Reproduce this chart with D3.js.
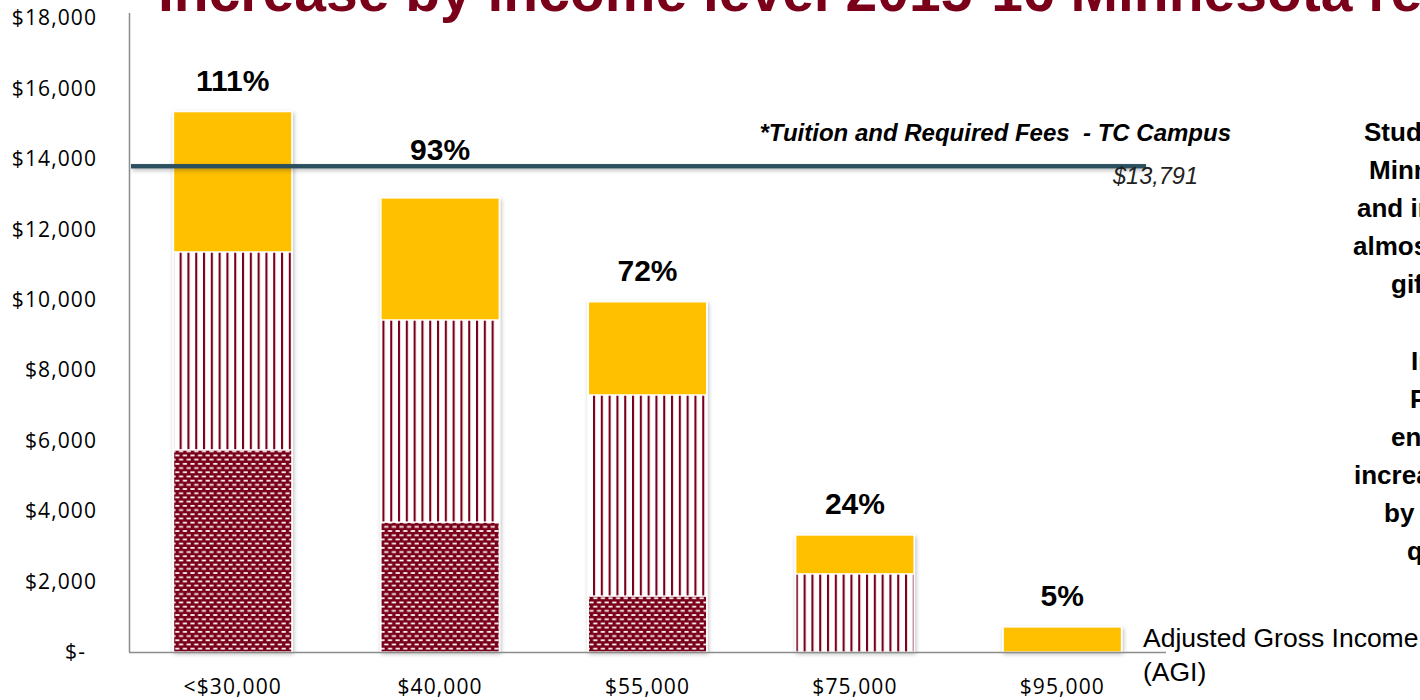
<!DOCTYPE html>
<html>
<head>
<meta charset="utf-8">
<script src="https://cdn.jsdelivr.net/npm/d3@7"></script>
<style>
  html, body { margin: 0; padding: 0; background: #ffffff; }
  svg { display: block; }
  .pre { white-space: pre; }
</style>
</head>
<body>
<svg id="chart" width="1420" height="700"></svg>
<script>
// Income brackets (AGI) and the three stacked aid components, in dollars
const categories = ["<$30,000", "$40,000", "$55,000", "$75,000", "$95,000"];
const baseAid   = [5740, 3690, 1590, 0, 0];      // dotted segment
const middleAid = [5620, 5740, 5710, 2220, 0];   // vertical-stripe segment
const topAid    = [3980, 3460, 2640, 1100, 710]; // solid gold segment

// Tuition and required fees, TC campus
const tuition = 13791;

// Value axis ticks
const yTicks = [0, 2000, 4000, 6000, 8000, 10000, 12000, 14000, 16000, 18000];

// Side note, one entry per line
const noteLines = [
  "Students from", "Minnesota families", "and incomes below", "almost fully covered", "gift aid.",
  "",
  "In", "Pell", "enrollment", "increased", "by", "quarter"
];

const MAROON = "#7a0019";
const GOLD = "#ffc000";
const SLATE = "#2c4f5f";

const svg = d3.select("#chart");
const defs = svg.append("defs");

// Vertical maroon stripes on white
const stripe = defs.append("pattern")
  .attr("id", "stripes").attr("patternUnits", "userSpaceOnUse")
  .attr("width", 7.8).attr("height", 10).attr("x", 0.2);
stripe.append("rect").attr("width", 7.8).attr("height", 10).attr("fill", "#ffffff");
stripe.append("rect").attr("x", 0).attr("width", 2.1).attr("height", 10).attr("fill", MAROON);

// Maroon field with staggered white dashes
const brick = defs.append("pattern")
  .attr("id", "dashes").attr("patternUnits", "userSpaceOnUse")
  .attr("width", 7.6).attr("height", 8.4);
brick.append("rect").attr("width", 7.6).attr("height", 8.4).attr("fill", MAROON);
brick.append("rect").attr("x", 0.4).attr("y", 1).attr("width", 4.2).attr("height", 1.7).attr("fill", "#ffffff");
brick.append("rect").attr("x", 4.2).attr("y", 5.2).attr("width", 4.2).attr("height", 1.7).attr("fill", "#ffffff");
brick.append("rect").attr("x", -3.4).attr("y", 5.2).attr("width", 4.2).attr("height", 1.7).attr("fill", "#ffffff");

// Soft shadow under bars and the tuition line
const shadow = defs.append("filter").attr("id", "soft")
  .attr("filterUnits", "userSpaceOnUse")
  .attr("x", 0).attr("y", 0).attr("width", 1420).attr("height", 700);
shadow.append("feDropShadow").attr("dx", 1).attr("dy", 2).attr("stdDeviation", 2)
  .attr("flood-color", "#000000").attr("flood-opacity", 0.28);

// Scales
const x = d3.scaleBand().domain(categories).range([129, 1166])
  .paddingInner(0.43).paddingOuter(0.215);
const y = d3.scaleLinear().domain([0, 18000]).range([652, 18]);

// Title (runs past the right edge)
svg.append("text")
  .attr("x", 158).attr("y", 11)
  .attr("font-family", "'Liberation Sans', Arial, sans-serif")
  .attr("font-weight", "bold").attr("font-size", 57)
  .attr("fill", MAROON)
  .text("Increase by income level 2015-16 Minnesota residents");

// Stack the three components
const rows = categories.map((c, i) => ({ cat: c, base: baseAid[i], middle: middleAid[i], top: topAid[i] }));
const stack = d3.stack().keys(["base", "middle", "top"]);
const layers = stack(rows);
const fills = { base: "url(#dashes)", middle: "url(#stripes)", top: GOLD };
const total = d => d.base + d.middle + d.top;

// Bar outlines carry the shadow
svg.append("g").selectAll("rect").data(rows).join("rect")
  .attr("x", d => x(d.cat) - 1)
  .attr("y", d => y(total(d)) - 1)
  .attr("width", x.bandwidth() + 2)
  .attr("height", d => y(0) - y(total(d)) + 1)
  .attr("fill", "#ffffff")
  .attr("filter", "url(#soft)");

const layerG = svg.append("g").selectAll("g").data(layers).join("g")
  .attr("fill", d => fills[d.key]);
layerG.selectAll("rect").data(d => d.filter(s => s[1] > s[0])).join("rect")
  .attr("x", d => x(d.data.cat))
  .attr("y", d => y(d[1]))
  .attr("width", x.bandwidth())
  .attr("height", d => y(d[0]) - y(d[1]))
  .attr("stroke", "#ffffff").attr("stroke-width", 1.2);

// Tuition reference line
const yT = y(tuition);
svg.append("rect")
  .attr("x", 131).attr("width", x.range()[1] - 20 - 131)
  .attr("y", yT - 2.2).attr("height", 4.4)
  .attr("fill", SLATE)
  .attr("filter", "url(#soft)");

// Share of tuition covered, above each bar (lifted clear of the tuition line)
const labelY = d => {
  const ly = y(total(d)) - 21;
  return (ly > yT - 6 && ly - 24 < yT + 4) ? yT - 6 : ly;
};
svg.append("g").selectAll("text").data(rows).join("text")
  .attr("x", d => x(d.cat) + x.bandwidth() / 2)
  .attr("y", labelY)
  .attr("text-anchor", "middle")
  .attr("font-family", "'Liberation Sans', Arial, sans-serif")
  .attr("font-weight", "bold").attr("font-size", 30)
  .attr("fill", "#000000")
  .text(d => Math.round(total(d) / tuition * 100) + "%");

svg.append("text")
  .attr("class", "pre")
  .attr("x", 1231).attr("y", 141)
  .attr("text-anchor", "end")
  .attr("font-family", "'Liberation Sans', Arial, sans-serif")
  .attr("font-weight", "bold").attr("font-style", "italic").attr("font-size", 24)
  .attr("fill", "#000000")
  .text("*Tuition and Required Fees  - TC Campus");

svg.append("text")
  .attr("x", 1198).attr("y", yT + 18)
  .attr("text-anchor", "end")
  .attr("font-family", "'Liberation Sans', Arial, sans-serif")
  .attr("font-style", "italic").attr("font-size", 23.5)
  .attr("fill", "#222222")
  .text("$" + d3.format(",")(tuition));

// Axes
const fmt = d => d === 0 ? "$-" : "$" + d3.format(",")(d);
const yAxis = svg.append("g").attr("transform", "translate(129,0)")
  .call(d3.axisLeft(y).tickValues(yTicks).tickFormat(fmt).tickSize(0).tickPadding(32));
yAxis.select(".domain").remove();
yAxis.selectAll("text")
  .attr("font-family", "'Open Sans', 'Liberation Sans', sans-serif")
  .attr("font-size", 21).attr("letter-spacing", 1.1).attr("fill", "#000000")
  .attr("dx", d => d === 0 ? -11 : 0);

const xAxis = svg.append("g").attr("transform", "translate(0,652)")
  .call(d3.axisBottom(x).tickSize(0).tickPadding(27));
xAxis.select(".domain").remove();
xAxis.selectAll("text")
  .attr("font-family", "'Open Sans', 'Liberation Sans', sans-serif")
  .attr("font-size", 21).attr("letter-spacing", 1.1).attr("fill", "#000000");

svg.append("line").attr("x1", 129.5).attr("x2", 129.5).attr("y1", 13).attr("y2", 652)
  .attr("stroke", "#8c8c8c").attr("stroke-width", 1.5);
svg.append("line").attr("x1", 129).attr("x2", x.range()[1]).attr("y1", 652.5).attr("y2", 652.5)
  .attr("stroke", "#8c8c8c").attr("stroke-width", 1.5);

// Axis title
const agi = svg.append("text")
  .attr("font-family", "'Liberation Sans', Arial, sans-serif")
  .attr("font-size", 26.5).attr("fill", "#000000");
agi.append("tspan").attr("x", 1143).attr("y", 647).text("Adjusted Gross Income");
agi.append("tspan").attr("x", 1143).attr("y", 681).text("(AGI)");

// Side note, centred lines running off the right edge
const noteStarts = [1364, 1369, 1357, 1353, 1391, 0, 1411, 1410, 1391, 1354, 1384, 1407];
svg.append("g").selectAll("text").data(noteLines).join("text")
  .attr("x", (d, i) => noteStarts[i])
  .attr("y", (d, i) => 141 + i * 38.1)
  .attr("font-family", "'Liberation Sans', Arial, sans-serif")
  .attr("font-weight", "bold").attr("font-size", 26)
  .attr("fill", "#000000")
  .text(d => d);
</script>
</body>
</html>
